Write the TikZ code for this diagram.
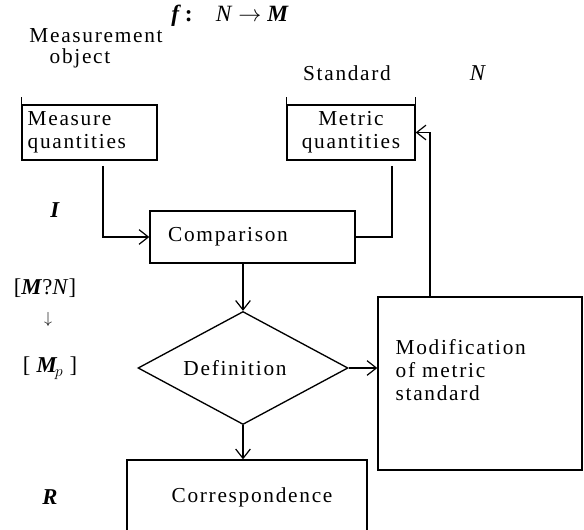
\documentclass[tikz,border=0pt]{standalone}
\usepackage{fontspec}
\setmainfont{Liberation Serif}
\newfontfamily\spaced[LetterSpace=8]{Liberation Serif}
\usetikzlibrary{arrows.meta,shapes.geometric,fit}
\tikzset{
  box/.style={draw, rectangle, inner sep=0pt},
  txt/.style={inner sep=0pt, font=\fontsize{16}{17.25}\selectfont\spaced},
  lbl/.style={inner sep=0pt, font=\fontsize{17}{19}\selectfont},
  arr/.style={-{Straight Barb[length=7pt,width=11pt,line width=0.9pt]}},
}
\begin{document}
\begin{tikzpicture}[x=0.75pt,y=-0.75pt,line width=1pt]
\useasboundingbox (0,0) rectangle (584,530);
\clip (0,0) rectangle (584,530);
% texts
\node[lbl, font=\fontsize{17.5}{19}\selectfont] (title) at (230,16) {\textbf{\textit{f}\,:}\quad \textit{N} $\rightarrow$ \textbf{\textit{M}}};
\node[txt] (mobj1) at (96,36) {Measurement};
\node[txt] (mobj2) at (80,58) {object};
\node[txt] (std) at (347,73) {Standard};
\node[lbl] (nlab) at (478,73) {\textit{N}};
\node[lbl] (ilab) at (55,210) {\textbf{\textit{I}}};
\node[lbl] (mn) at (45,288) {[\textbf{\textit{M}}?\textit{N}]};
\node[lbl, font=\fontsize{13}{14}\selectfont] (darr) at (48,319) {$\downarrow$};
\node[lbl] (mp) at (50,368) {[\;\textbf{\textit{M}}$_{\!p}$\;]};
\node[lbl] (rlab) at (50,497) {\textbf{\textit{R}}};
% boxes
\node[box, fit={(22,105)(157,160)}] (meas) {};
\node[txt, anchor=west, align=left] (meast) at (27,132) {Measure\\quantities};
\draw (meas.north west) -- ++(0,-7);
\node[box, fit={(287,105)(415,160)}] (metric) {};
\node[txt, align=center] (metrict) at (351,132) {Metric\\quantities};
\draw (metric.north west) -- ++(0,-7);
\draw (metric.north east) -- ++(0,-7);
\node[box, fit={(150,211)(355,263)}] (comp) {};
\node[txt] (compt) at (228,237) {Comparison};
\node[draw, diamond, aspect=1.86, inner sep=0pt, minimum width=157.5pt, minimum height=84.75pt] (def) at (243,368) {};
\node[txt] (deft) at (235,368) {Definition};
\node[box, fit={(378,297)(582,470)}] (modif) {};
\node[txt, anchor=west, align=left] (modift) at (395,370) {Modification\\of metric\\standard};
\node[box, fit={(127,460)(367,545)}] (corr) {};
\node[txt] (corrt) at (252,497) {Correspondence};
% connectors
\draw[arr] ([xshift=10pt,yshift=-4pt]meas.south) |- (comp.west);
\draw ([xshift=30.75pt,yshift=-4pt]metric.south) |- (comp.east);
\draw[arr] (def.north |- comp.south) -- (def.north);
\draw[arr] (def.east) -- (def.east -| modif.west);
\draw[arr] ([xshift=-37.5pt]modif.north) |- (metric.east);
\draw[arr] (def.south) -- (def.south |- corr.north);
\end{tikzpicture}
\end{document}
